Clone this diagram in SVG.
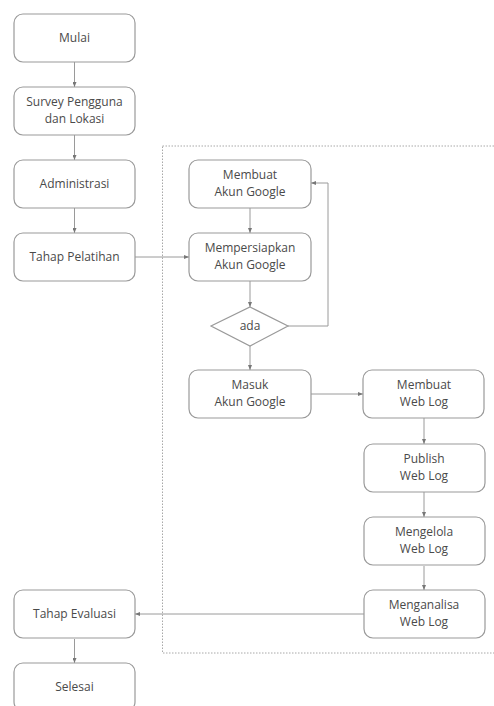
<svg xmlns="http://www.w3.org/2000/svg" width="494" height="706" viewBox="0 0 494 706">
<defs>
<style>
.box{fill:#fff;stroke:#9a9a9a;stroke-width:1.2}
.t{font-family:"Open Sans","Liberation Sans",sans-serif;font-size:12px;fill:#4a4a4a;text-anchor:middle}
.c{fill:none;stroke:#9a9a9a;stroke-width:1}
</style>
<marker id="ah" markerWidth="5" markerHeight="4" refX="5" refY="2" orient="auto" markerUnits="userSpaceOnUse">
<path d="M0,0 L5,2 L0,4 Z" fill="#777"/>
</marker>
</defs>
<rect width="494" height="706" fill="#fff"/>
<rect id="group-frame" x="162.5" y="146" width="340" height="507" fill="none" stroke="#a8a8a8" stroke-width="1" stroke-dasharray="1.5,1.5"/>
<g id="connectors">
<path class="c" d="M74.5,62 V87" marker-end="url(#ah)"/>
<path class="c" d="M74.5,135 V160" marker-end="url(#ah)"/>
<path class="c" d="M74.5,208 V233" marker-end="url(#ah)"/>
<path class="c" d="M135,257 H189" marker-end="url(#ah)"/>
<path class="c" d="M250,208 V233" marker-end="url(#ah)"/>
<path class="c" d="M250,281 V307" marker-end="url(#ah)"/>
<path class="c" d="M288,326 H328 V183 H311" marker-end="url(#ah)"/>
<path class="c" d="M250,346 V370" marker-end="url(#ah)"/>
<path class="c" d="M311,394 H363" marker-end="url(#ah)"/>
<path class="c" d="M424,418 V444" marker-end="url(#ah)"/>
<path class="c" d="M424,492 V517" marker-end="url(#ah)"/>
<path class="c" d="M424,566 V590" marker-end="url(#ah)"/>
<path class="c" d="M364,614 H135" marker-end="url(#ah)"/>
<path class="c" d="M74.5,639 V663" marker-end="url(#ah)"/>
</g>
<g id="mulai"><rect class="box" x="14" y="14" width="121" height="48" rx="9"/><text class="t" x="74.5" y="42">Mulai</text></g>
<g id="survey"><rect class="box" x="14" y="87" width="121" height="48" rx="9"/><text class="t" x="74.5" y="106">Survey Pengguna</text><text class="t" x="74.5" y="123">dan Lokasi</text></g>
<g id="administrasi"><rect class="box" x="14" y="160" width="121" height="48" rx="9"/><text class="t" x="74.5" y="188">Administrasi</text></g>
<g id="pelatihan"><rect class="box" x="14" y="233" width="121" height="48" rx="9"/><text class="t" x="74.5" y="261">Tahap Pelatihan</text></g>
<g id="membuat-akun"><rect class="box" x="189" y="160" width="122" height="48" rx="9"/><text class="t" x="250" y="179">Membuat</text><text class="t" x="250" y="196">Akun Google</text></g>
<g id="mempersiapkan"><rect class="box" x="189" y="233" width="122" height="48" rx="9"/><text class="t" x="250" y="252">Mempersiapkan</text><text class="t" x="250" y="269">Akun Google</text></g>
<g id="ada"><path class="box" d="M250,307 L288,326 L250,346 L211,326 Z"/><text class="t" x="250" y="330">ada</text></g>
<g id="masuk"><rect class="box" x="189" y="370" width="122" height="48" rx="9"/><text class="t" x="250" y="389">Masuk</text><text class="t" x="250" y="406">Akun Google</text></g>
<g id="membuat-weblog"><rect class="box" x="363" y="370" width="121" height="48" rx="9"/><text class="t" x="424" y="389">Membuat</text><text class="t" x="424" y="406">Web Log</text></g>
<g id="publish"><rect class="box" x="364" y="444" width="121" height="48" rx="9"/><text class="t" x="424" y="463">Publish</text><text class="t" x="424" y="480">Web Log</text></g>
<g id="mengelola"><rect class="box" x="364" y="517" width="121" height="48" rx="9"/><text class="t" x="424" y="536">Mengelola</text><text class="t" x="424" y="553">Web Log</text></g>
<g id="menganalisa"><rect class="box" x="364" y="590" width="121" height="48" rx="9"/><text class="t" x="424" y="609">Menganalisa</text><text class="t" x="424" y="626">Web Log</text></g>
<g id="evaluasi"><rect class="box" x="14" y="590" width="121" height="48" rx="9"/><text class="t" x="74.5" y="618">Tahap Evaluasi</text></g>
<g id="selesai"><rect class="box" x="14" y="663" width="121" height="48" rx="9"/><text class="t" x="74.5" y="691">Selesai</text></g>
</svg>
